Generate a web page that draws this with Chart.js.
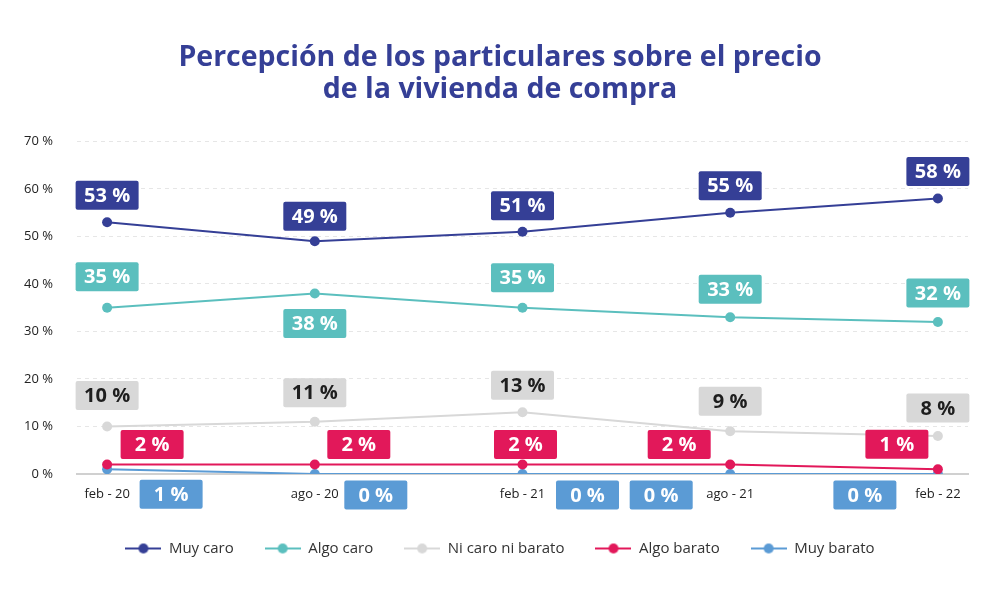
<!DOCTYPE html>
<html>
<head>
<meta charset="utf-8">
<script src="https://cdn.jsdelivr.net/npm/chart.js@4/dist/chart.umd.min.js"></script>
<style>
  html, body { margin: 0; padding: 0; background: #fff; }
  #wrap { width: 1000px; height: 590px; }
</style>
</head>
<body>
<div id="wrap"><canvas id="myChart" width="1000" height="590"></canvas></div>
<script>
/* data */
const periods = ['feb - 20', 'ago - 20', 'feb - 21', 'ago - 21', 'feb - 22'];
const muyCaro = [53, 49, 51, 55, 58];
const algoCaro = [35, 38, 35, 33, 32];
const niCaroNiBarato = [10, 11, 13, 9, 8];
const algoBarato = [2, 2, 2, 2, 1];
const muyBarato = [1, 0, 0, 0, 0];
const yTicks = [0, 10, 20, 30, 40, 50, 60, 70];

const BLUE = '#353f96';
const TEAL = '#5bbfbe';
const GREY = '#d8d8d8';
const RED = '#e2185a';
const LIGHTBLUE = '#5b9bd5';

/* where each value box sits relative to its point (dx, dy) */
const boxPlacement = [
    [[0, -27], [0, -25], [0, -26], [0, -27], [0, -27]],
    [[0, -31], [0, 30], [0, -30], [0, -28], [0, -29]],
    [[0, -31], [0, -29], [0, -27], [0, -30], [0, -28]],
    [[45, -20], [44, -20], [3, -20], [-51, -20], [-41, -25]],
    [[64, 25], [61, 21], [65, 21], [-69, 21], [-73, 21]]
];

/* little line-with-dot marker for the legend */
function legendMarker(color) {
    const c = document.createElement('canvas');
    c.width = 36; c.height = 12;
    const g = c.getContext('2d');
    g.strokeStyle = color;
    g.lineWidth = 2;
    g.beginPath(); g.moveTo(0, 6); g.lineTo(36, 6); g.stroke();
    g.fillStyle = color;
    g.beginPath(); g.arc(18, 6, 5, 0, Math.PI * 2); g.fill();
    return c;
}

function series(label, data, color) {
    return {
        label: label,
        data: data.map((v, i) => ({x: i, y: v})),
        borderColor: color,
        backgroundColor: color,
        borderWidth: 2,
        pointRadius: 5,
        pointHoverRadius: 5,
        pointBorderWidth: 0,
        pointStyle: 'circle',
        legendMarker: legendMarker(color),
        tension: 0
    };
}

const valueBoxes = {
    id: 'valueBoxes',
    afterDatasetsDraw(chart) {
        const ctx = chart.ctx;
        ctx.save();
        ctx.font = 'bold 20px "Open Sans"';
        ctx.textAlign = 'center';
        ctx.textBaseline = 'middle';
        chart.data.datasets.forEach((ds, d) => {
            const meta = chart.getDatasetMeta(d);
            meta.data.forEach((pt, i) => {
                const [dx, dy] = boxPlacement[d][i];
                const cx = pt.x + dx, cy = pt.y + dy;
                const w = 63, h = 29;
                ctx.fillStyle = ds.borderColor;
                ctx.beginPath();
                ctx.roundRect(cx - w / 2, cy - h / 2, w, h, 2);
                ctx.fill();
                ctx.fillStyle = ds.borderColor === GREY ? '#1e1e1e' : '#ffffff';
                ctx.fillText(ds.data[i].y + ' %', cx, cy + 1);
            });
        });
        ctx.restore();
    }
};

const ctx = document.getElementById('myChart').getContext('2d');
new Chart(ctx, {
    type: 'line',
    data: {
        datasets: [
            series('Muy caro', muyCaro, BLUE),
            series('Algo caro', algoCaro, TEAL),
            series('Ni caro ni barato', niCaroNiBarato, GREY),
            series('Algo barato', algoBarato, RED),
            series('Muy barato', muyBarato, LIGHTBLUE)
        ]
    },
    options: {
        responsive: false,
        animation: false,
        devicePixelRatio: 1,
        layout: { padding: { left: 0, right: 0, top: 0, bottom: 24 } },
        plugins: {
            title: {
                display: true,
                text: ['Percepción de los particulares sobre el precio', 'de la vivienda de compra'],
                color: BLUE,
                font: { family: '"Open Sans"', size: 28.5, weight: 'bold', lineHeight: 1.13 },
                padding: { top: 42, bottom: 35 }
            },
            legend: {
                position: 'bottom',
                labels: {
                    usePointStyle: true,
                    pointStyleWidth: 36,
                    padding: 31,
                    color: '#333',
                    font: { family: '"Open Sans"', size: 15 },
                    generateLabels(chart) {
                        return chart.data.datasets.map((ds, i) => ({
                            text: ds.label,
                            pointStyle: ds.legendMarker,
                            fillStyle: ds.borderColor,
                            strokeStyle: ds.borderColor,
                            lineWidth: 0,
                            hidden: false,
                            datasetIndex: i,
                            fontColor: '#333'
                        }));
                    }
                }
            },
            tooltip: { enabled: false }
        },
        scales: {
            x: {
                type: 'linear',
                min: -0.145,
                max: 4.145,
                afterBuildTicks(scale) {
                    scale.ticks = periods.map((p, i) => ({value: i}));
                },
                afterFit(scale) { scale.height = 36; },
                ticks: {
                    callback: (v) => periods[v],
                    color: '#222',
                    padding: 12,
                    font: { family: '"Open Sans"', size: 13 },
                    maxRotation: 0
                },
                grid: { display: false, drawTicks: false },
                border: { display: true, color: '#d0d0d0', width: 2 }
            },
            y: {
                min: 0,
                max: 70,
                afterBuildTicks(scale) {
                    scale.ticks = yTicks.map(v => ({value: v}));
                },
                afterFit(scale) { scale.width = 77; },
                ticks: {
                    callback: (v) => v + ' %',
                    color: '#222',
                    padding: 24,
                    font: { family: '"Open Sans"', size: 13 }
                },
                grid: {
                    drawTicks: false,
                    color: (c) => c.tick && c.tick.value === 0 ? 'rgba(0,0,0,0)' : '#e6e6e6',
                    lineWidth: 1
                },
                border: { display: false, dash: [4, 4] }
            },
            /* empty right-hand axis, only to leave the right margin */
            yRight: {
                position: 'right',
                min: 0,
                max: 70,
                afterFit(scale) { scale.width = 32; },
                ticks: { display: false },
                grid: { display: false, drawTicks: false },
                border: { display: false }
            }
        }
    },
    plugins: [valueBoxes]
});
</script>
</body>
</html>
